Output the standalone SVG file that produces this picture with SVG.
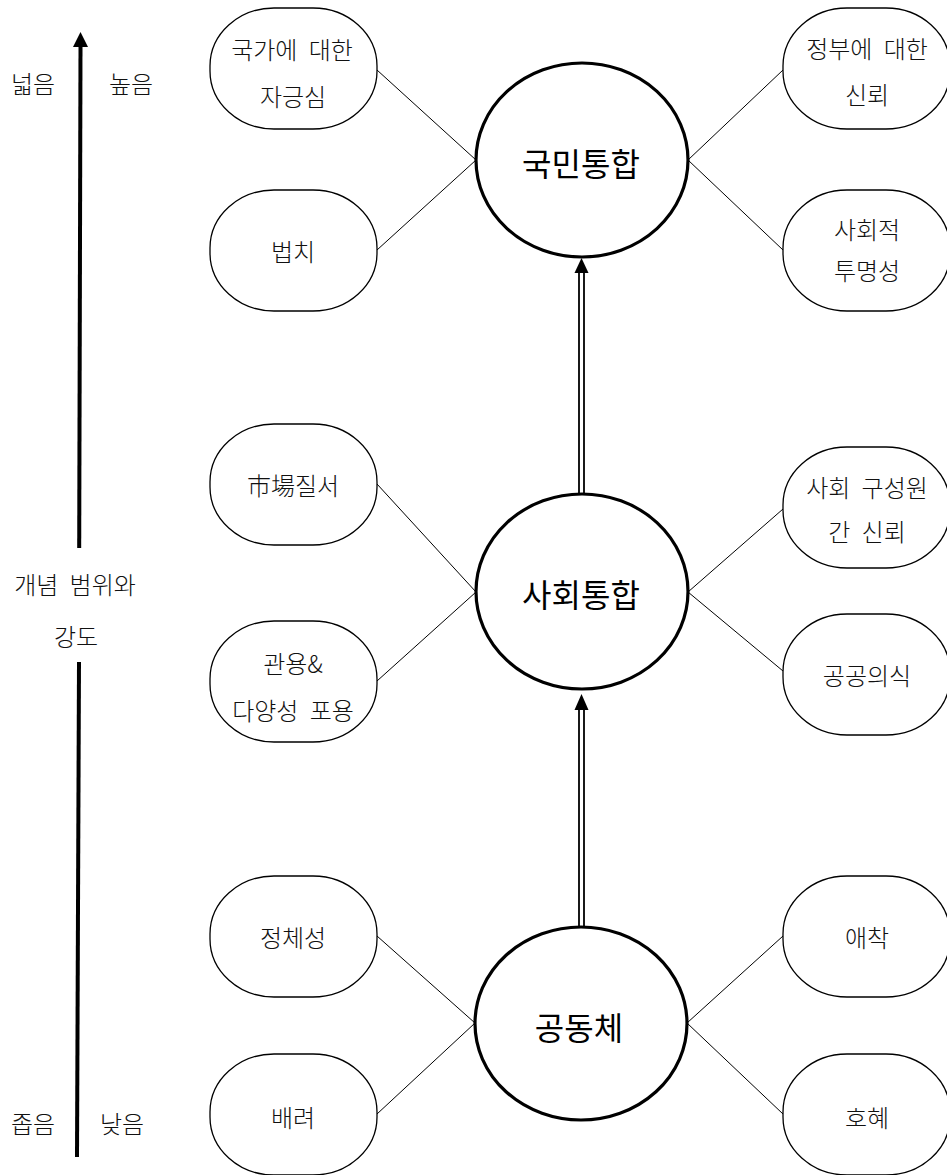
<svg xmlns="http://www.w3.org/2000/svg" width="947" height="1175" viewBox="0 0 947 1175">
<style>
.n{fill:#fff;stroke:#000;stroke-width:1.3}
.b{fill:#fff;stroke:#000;stroke-width:3.2}
.c{stroke:#000;stroke-width:1;fill:none}
.d{stroke:#000;stroke-width:1.8;fill:none}
.t{font-family:"Noto Sans CJK KR","Noto Sans",sans-serif;font-size:24px;font-weight:300;text-anchor:middle;dominant-baseline:central;fill:#111;word-spacing:6px}
.bt{font-family:"Noto Sans CJK KR","Noto Sans",sans-serif;font-size:32px;font-weight:400;text-anchor:middle;dominant-baseline:central;fill:#000}
</style>
<rect width="947" height="1175" fill="#fff"/>
<g id="connectors">
<line class="c" x1="377" y1="70" x2="476" y2="160"/>
<line class="c" x1="377" y1="250" x2="476" y2="160"/>
<line class="c" x1="688" y1="160" x2="783" y2="70"/>
<line class="c" x1="688" y1="160" x2="783" y2="250"/>
<line class="c" x1="377" y1="484" x2="476" y2="592"/>
<line class="c" x1="377" y1="681" x2="476" y2="592"/>
<line class="c" x1="688" y1="592" x2="783" y2="509"/>
<line class="c" x1="688" y1="592" x2="783" y2="671"/>
<line class="c" x1="377" y1="936" x2="475" y2="1023"/>
<line class="c" x1="377" y1="1114" x2="475" y2="1023"/>
<line class="c" x1="687" y1="1023" x2="783" y2="936"/>
<line class="c" x1="687" y1="1023" x2="783" y2="1114"/>
<line class="d" x1="579" y1="272" x2="579" y2="494"/>
<line class="d" x1="584" y1="272" x2="584" y2="494"/>
<polygon points="581.5,258 574.5,273 588.5,273" fill="#000"/>
<line class="d" x1="579" y1="709" x2="579" y2="927"/>
<line class="d" x1="584" y1="709" x2="584" y2="927"/>
<polygon points="581.5,694 574.5,710 588.5,710" fill="#000"/>
</g>
<g id="axis">
<line x1="80.5" y1="46" x2="79.2" y2="548" stroke="#000" stroke-width="4"/>
<line x1="79" y1="662" x2="77" y2="1157" stroke="#000" stroke-width="4"/>
<polygon points="80.5,32 73,47 88,47" fill="#000"/>
<text class="t" x="33" y="82">넓음</text>
<text class="t" x="131" y="82">높음</text>
<text class="t" x="75" y="583">개념 범위와</text>
<text class="t" x="76" y="635">강도</text>
<text class="t" x="33" y="1122">좁음</text>
<text class="t" x="122" y="1122">낮음</text>
</g>
<g id="n-gukmin"><ellipse class="b" cx="582" cy="160" rx="106" ry="97"/><text class="bt" x="581" y="162">국민통합</text></g>
<g id="n-sahoe"><ellipse class="b" cx="582" cy="591.5" rx="106" ry="97.5"/><text class="bt" x="581" y="593">사회통합</text></g>
<g id="n-gongdong"><ellipse class="b" cx="581" cy="1023.5" rx="106" ry="96.5"/><text class="bt" x="579" y="1026">공동체</text></g>
<g id="n-jageungsim"><rect class="n" x="210" y="8" width="167" height="121" rx="64" ry="58"/><text class="t" x="292" y="48">국가에 대한</text><text class="t" x="293" y="95">자긍심</text></g>
<g id="n-beobchi"><rect class="n" x="210" y="190" width="167" height="121" rx="64" ry="58"/><text class="t" x="293" y="250">법치</text></g>
<g id="n-jeongbu"><rect class="n" x="783" y="8" width="167" height="121" rx="64" ry="58"/><text class="t" x="867" y="47.5">정부에 대한</text><text class="t" x="867" y="93">신뢰</text></g>
<g id="n-tumyeong"><rect class="n" x="783" y="190" width="167" height="121" rx="64" ry="58"/><text class="t" x="867" y="228">사회적</text><text class="t" x="867" y="269">투명성</text></g>
<g id="n-sijang"><rect class="n" x="210" y="424" width="167" height="121" rx="64" ry="58"/><text class="t" x="293" y="484">市場질서</text></g>
<g id="n-gwanyong"><rect class="n" x="210" y="621" width="167" height="121" rx="64" ry="58"/><text class="t" x="293" y="662">관용&amp;</text><text class="t" x="293" y="709">다양성 포용</text></g>
<g id="n-guseongwon"><rect class="n" x="783" y="447" width="167" height="121" rx="64" ry="58"/><text class="t" x="867" y="486">사회 구성원</text><text class="t" x="867" y="530">간 신뢰</text></g>
<g id="n-gonggong"><rect class="n" x="783" y="614" width="167" height="121" rx="64" ry="58"/><text class="t" x="867" y="674">공공의식</text></g>
<g id="n-jeongche"><rect class="n" x="210" y="876" width="167" height="121" rx="64" ry="58"/><text class="t" x="293" y="936">정체성</text></g>
<g id="n-baeryeo"><rect class="n" x="210" y="1054" width="167" height="121" rx="64" ry="58"/><text class="t" x="293" y="1116">배려</text></g>
<g id="n-aechak"><rect class="n" x="783" y="876" width="167" height="121" rx="64" ry="58"/><text class="t" x="867" y="936">애착</text></g>
<g id="n-hohye"><rect class="n" x="783" y="1054" width="167" height="121" rx="64" ry="58"/><text class="t" x="867" y="1116">호혜</text></g>
</svg>
